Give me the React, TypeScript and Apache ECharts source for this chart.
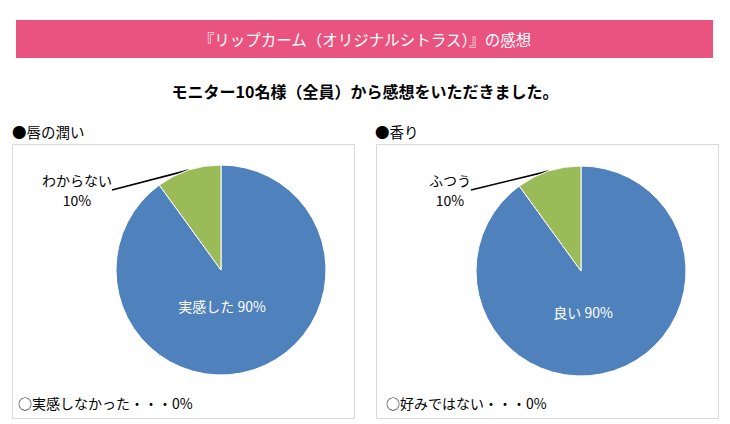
import React, { useEffect, useRef } from 'react';
import * as echarts from 'echarts';

const mainTitle = '『リップカーム（オリジナルシトラス）』の感想';
const subTitle = 'モニター10名様（全員）から感想をいただきました。';

const lipTitle = '●唇の潤い';
const lipNames = ['実感した', 'わからない'];
const lipValues = [90, 10];
const lipZeroName = '実感しなかった';
const lipZeroValue = 0;

const scentTitle = '●香り';
const scentNames = ['良い', 'ふつう'];
const scentValues = [90, 10];
const scentZeroName = '好みではない';
const scentZeroValue = 0;

const sliceColors = ['#4F81BD', '#9BBB59'];
const FONT = '"Noto Sans CJK JP", "Noto Sans", sans-serif';

function pieSeries(names: string[], values: number[], center: number[], innerShift: number[], outerPos: number[]) {
  return {
    type: 'pie',
    center,
    radius: 105,
    startAngle: 90,
    clockwise: true,
    avoidLabelOverlap: false,
    silent: true,
    itemStyle: { borderColor: '#ffffff', borderWidth: 1 },
    labelLayout: (params: any) => {
      if (params.dataIndex === 0) return { dx: innerShift[0], dy: innerShift[1] };
      return { x: outerPos[0], y: outerPos[1], align: 'center', verticalAlign: 'middle' };
    },
    data: names.map((n, i) => ({
      name: n,
      value: values[i],
      itemStyle: { color: sliceColors[i] },
      label:
        i === 0
          ? { show: true, position: 'inside', formatter: '{b} {c}%', color: '#ffffff', fontSize: 14, fontFamily: FONT }
          : { show: true, position: 'outside', formatter: '{b}\n{c}%', color: '#000000', fontSize: 14, lineHeight: 20, align: 'center', fontFamily: FONT },
      labelLine:
        i === 0
          ? { show: false }
          : { show: true, length: 15, length2: 0, lineStyle: { color: '#000000', width: 1.6 } },
    })),
  };
}

export default function App() {
  const ref = useRef<HTMLDivElement>(null);
  useEffect(() => {
    if (!ref.current) return;
    const chart = echarts.init(ref.current, null, { renderer: 'svg' });
    chart.setOption({
      animation: false,
      textStyle: { fontFamily: FONT },
      graphic: [
        { type: 'rect', shape: { x: 16, y: 20, width: 697, height: 38 }, style: { fill: '#E8547F' }, z: 0 },
        { type: 'rect', shape: { x: 12.5, y: 144.5, width: 342, height: 274 }, style: { fill: 'none', stroke: '#D9D9D9', lineWidth: 1 }, z: 0 },
        { type: 'rect', shape: { x: 376.5, y: 144.5, width: 342, height: 274 }, style: { fill: 'none', stroke: '#D9D9D9', lineWidth: 1 }, z: 0 },
        { type: 'text', x: 365, y: 39, style: { text: mainTitle, fill: '#ffffff', font: `15.5px ${FONT}`, textAlign: 'center', textVerticalAlign: 'middle' }, z: 10 },
        { type: 'text', x: 365, y: 91, style: { text: subTitle, fill: '#000000', font: `bold 16px ${FONT}`, textAlign: 'center', textVerticalAlign: 'middle' }, z: 10 },
        { type: 'text', x: 12, y: 131, style: { text: lipTitle, fill: '#000000', font: `14.5px ${FONT}`, textAlign: 'left', textVerticalAlign: 'middle' }, z: 10 },
        { type: 'text', x: 375, y: 131, style: { text: scentTitle, fill: '#000000', font: `14.5px ${FONT}`, textAlign: 'left', textVerticalAlign: 'middle' }, z: 10 },
        { type: 'text', x: 18, y: 403, style: { text: `○${lipZeroName}・・・${lipZeroValue}%`, fill: '#000000', font: `14px ${FONT}`, textAlign: 'left', textVerticalAlign: 'middle' }, z: 10 },
        { type: 'text', x: 386, y: 403, style: { text: `○${scentZeroName}・・・${scentZeroValue}%`, fill: '#000000', font: `14px ${FONT}`, textAlign: 'left', textVerticalAlign: 'middle' }, z: 10 },
      ],
      series: [
        pieSeries(lipNames, lipValues, [221, 270], [-16, -17], [77, 190]),
        pieSeries(scentNames, scentValues, [581, 271], [-15, -12], [450, 190]),
      ],
    });
    return () => chart.dispose();
  }, []);
  return <div ref={ref} style={{ position: 'absolute', left: 0, top: 0, width: 730, height: 424 }} />;
}
